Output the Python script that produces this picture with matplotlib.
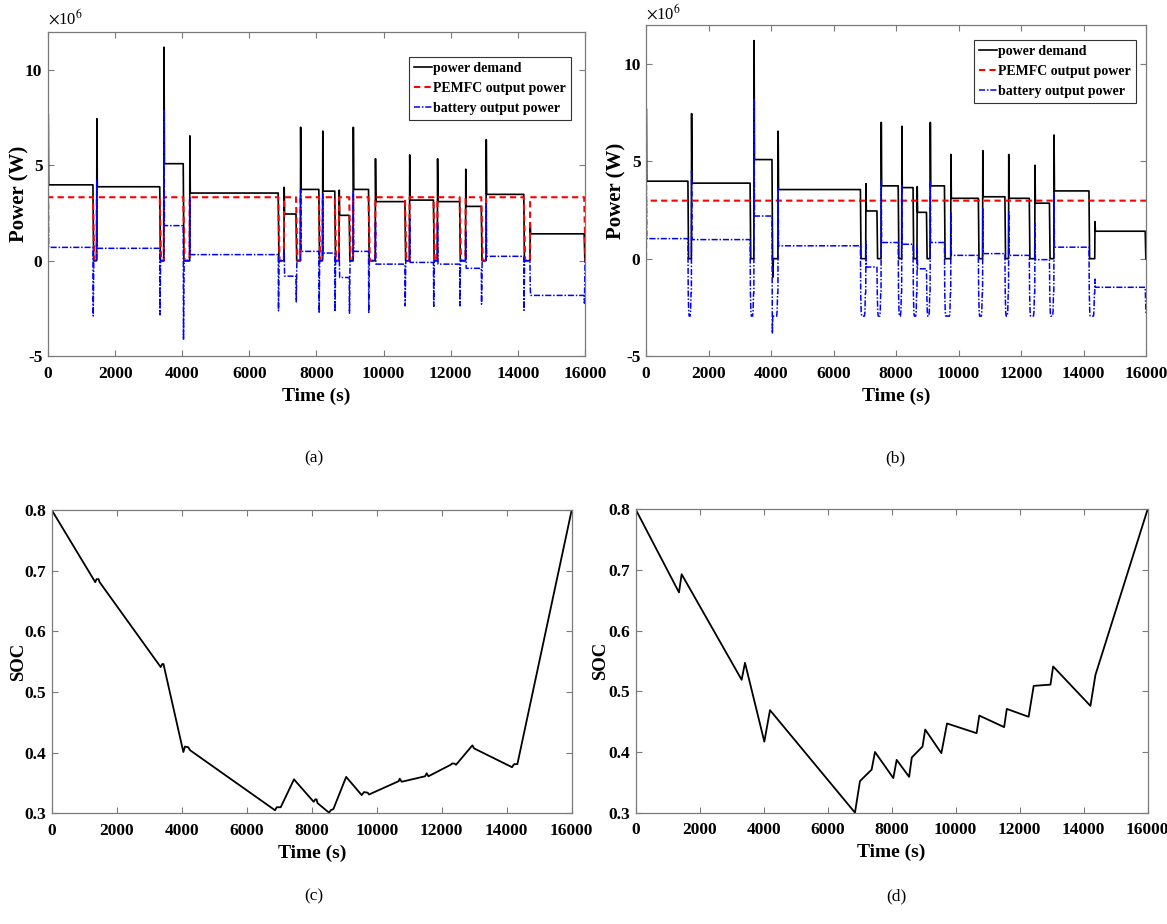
import numpy as np
import matplotlib
matplotlib.use("Agg")
import matplotlib.pyplot as plt
from matplotlib.ticker import FuncFormatter

plt.rcParams['font.family'] = ['Liberation Serif', 'DejaVu Serif']
plt.rcParams['mathtext.fontset'] = 'stix'
plt.rcParams['axes.unicode_minus'] = False

# ---- drive-cycle blocks (time in s, power in MW) ----
blk_start = [0, 1450, 3450, 4220, 7030, 7520, 8180, 8670, 9090, 9750, 10770, 11600, 12440, 13050, 14360]
blk_end = [1340, 3330, 4030, 6860, 7390, 8070, 8545, 8975, 9550, 10635, 11485, 12265, 12910, 14175, 15975]
dem_peak = [7.7, 7.45, 11.2, 6.55, 3.85, 7.0, 6.8, 3.7, 7.0, 5.35, 5.55, 5.35, 4.8, 6.35, 1.9]
dem_plat = [3.98, 3.88, 5.09, 3.55, 2.45, 3.74, 3.65, 2.38, 3.74, 3.10, 3.18, 3.10, 2.85, 3.48, 1.41]

# strategy (a)
a_fc = 3.33
a_bat_spike = [4.45, 4.2, 7.95, 3.3, 0.5, 3.7, 3.5, 0.4, 3.7, 2.0, 2.2, 2.0, 1.5, 3.0, -1.4]
a_bat_plat = [0.70, 0.65, 1.84, 0.32, -0.81, 0.49, 0.40, -0.88, 0.49, -0.18, -0.09, -0.18, -0.40, 0.23, -1.82]
a_bat_dip = [-2.9, -2.84, -4.16, -2.63, -2.16, -2.75, -2.67, -2.75, -2.75, -2.37, -2.4, -2.37, -2.28, -2.6, -2.23]

# strategy (b)
b_fc = 2.98
b_dem_dip = [0, 0, -0.95, 0, 0, 0, 0, 0, 0, 0, 0, 0, 0, 0, 0]
b_bat_spike = [4.8, 4.5, 8.25, 3.6, 0.9, 4.0, 3.8, 0.7, 4.0, 2.4, 2.6, 2.4, 1.8, 3.4, -1.05]
b_bat_plat = [1.03, 0.98, 2.19, 0.66, -0.43, 0.83, 0.74, -0.52, 0.83, 0.17, 0.26, 0.17, -0.05, 0.59, -1.47]
b_bat_floor = [-2.95, -2.95, -2.95, -2.95, -2.95, -2.95, -2.95, -2.95, -2.95, -2.95, -2.95, -2.95, -2.95, -2.95, -2.85]
b_bat_gapmin = [None, None, -3.85, None, None, None, None, None, None, None, None, None, None, None, None]

# SOC traces
c_t = [0, 1340, 1380, 1440, 1475, 3354, 3400, 3440, 3460, 4051, 4100, 4200, 4256, 6872, 6923, 7046,
       7456, 7518, 8060, 8110, 8150, 8175, 8533, 8585, 8667, 9060, 9538, 9610, 9723, 9764, 10677, 10708,
       10769, 11487, 11538, 11590, 12277, 12318, 12390, 12441, 12944, 12995, 14164, 14226, 14328, 16000]
c_soc = [0.8, 0.681, 0.686, 0.686, 0.681, 0.541, 0.546, 0.546, 0.541, 0.401, 0.410, 0.409, 0.404, 0.305,
         0.310, 0.310, 0.356, 0.352, 0.319, 0.323, 0.323, 0.317, 0.301, 0.305, 0.307, 0.360, 0.330, 0.335,
         0.334, 0.331, 0.353, 0.357, 0.352, 0.361, 0.366, 0.361, 0.380, 0.382, 0.382, 0.380, 0.412, 0.407,
         0.376, 0.381, 0.381, 0.8]
d_t = [0, 1354, 1437, 3312, 3417, 4021, 4198, 6854, 7010, 7375, 7479, 8052, 8157, 8546, 8630, 8965, 9049,
       9553, 9731, 10655, 10739, 11515, 11599, 12281, 12439, 12963, 13047, 14212, 14369, 16000]
d_soc = [0.8, 0.663, 0.693, 0.519, 0.547, 0.417, 0.469, 0.300, 0.352, 0.371, 0.400, 0.357, 0.387, 0.359,
         0.391, 0.409, 0.437, 0.398, 0.447, 0.431, 0.460, 0.441, 0.471, 0.458, 0.509, 0.511, 0.541, 0.476,
         0.527, 0.8]

MW = 1e6


def demand_trace(dips=None):
    t, y = [0.0], [0.0]
    for i, (s, e) in enumerate(zip(blk_start, blk_end)):
        t += [s, s + 8, s + 20, e, e + 20]
        y += [0, dem_peak[i], dem_plat[i], dem_plat[i], 0]
        if dips is not None and dips[i] != 0:
            t += [e + 30, e + 45]
            y += [dips[i], 0]
    return np.array(t), np.array(y) * MW


def fc_trace_a():
    t, y = [0.0], [0.0]
    for s, e in zip(blk_start, blk_end):
        t += [s, s + 5, e, e + 40]
        y += [0, a_fc, a_fc, 0]
    return np.array(t), np.array(y) * MW


def bat_trace_a():
    t, y = [0.0], [0.0]
    for i, (s, e) in enumerate(zip(blk_start, blk_end)):
        t += [s, s + 8, s + 20, e, e + 8, e + 25]
        y += [0, a_bat_spike[i], a_bat_plat[i], a_bat_plat[i], a_bat_dip[i], 0]
    return np.array(t), np.array(y) * MW


def bat_trace_b():
    t, y = [0.0], [0.0]
    n = len(blk_start)
    for i, (s, e) in enumerate(zip(blk_start, blk_end)):
        f = b_bat_floor[i]
        t += [s, s + 8, s + 20, e]
        y += [y[-1] if i else 0, b_bat_spike[i], b_bat_plat[i], b_bat_plat[i]]
        if i == n - 1:
            t += [e + 25]
            y += [f]
            break
        nxt = blk_start[i + 1]
        if b_bat_gapmin[i] is not None:
            t += [e + 12, e + 25]
            y += [b_bat_gapmin[i], f * 0.98]
        else:
            t += [e + 10, e + 25]
            y += [f * 0.6, f * 0.92]
        t += [e + 40, nxt - 40, nxt - 25, nxt - 10]
        y += [f, f, f * 0.92, f * 0.6]
    return np.array(t), np.array(y) * MW


FS_TICK = 12.5
SPINE = '#7a7a7a'


def style_axes(ax):
    for sp in ax.spines.values():
        sp.set_color(SPINE)
        sp.set_linewidth(0.9)
    ax.tick_params(direction='in', length=4, width=0.8, color=SPINE,
                   top=True, right=True, labelsize=FS_TICK)
    ax.tick_params(axis='x', pad=7)
    ax.tick_params(axis='y', pad=4)
    for lab in ax.get_xticklabels() + ax.get_yticklabels():
        lab.set_fontweight('bold')
    ax.set_xlim(0, 16000)
    ax.set_xticks(np.arange(0, 16001, 2000))
    ax.set_xlabel('Time (s)', fontsize=14, fontweight='bold', labelpad=4)


fig = plt.figure(figsize=(11.67, 9.24), dpi=100)
ax_a = fig.add_axes([0.0411, 0.6147, 0.4602, 0.3507])
ax_b = fig.add_axes([0.5536, 0.6147, 0.4284, 0.3582])
ax_c = fig.add_axes([0.0443, 0.1198, 0.4456, 0.3283])
ax_d = fig.add_axes([0.5447, 0.1205, 0.4387, 0.3283])

panels = [
    (ax_a, demand_trace(), fc_trace_a(), bat_trace_a(), (0.974, 0.923), 1.012, -0.034),
    (ax_b, demand_trace(b_dem_dip),
     (np.array([0, 5, 16000]), np.array([0, b_fc, b_fc]) * MW), bat_trace_b(), (0.98, 0.955), 1.004, -0.04),
]
for ax, dem, fc, bat, anchor, ytxt, lx in panels:
    ax.plot(*dem, color='black', lw=1.2, label='power demand')
    ax.plot(*fc, color='#ff0000', lw=1.5, ls=(0, (3, 2)), label='PEMFC output power')
    ax.plot(*bat, color='#0000ff', lw=1.1, ls=(0, (4, 1.2, 1, 1.2)), label='battery output power')
    ax.set_ylim(-5 * MW, 12 * MW)
    ax.set_yticks(np.array([-5, 0, 5, 10]) * MW)
    ax.yaxis.set_major_formatter(FuncFormatter(lambda v, p: '%d' % round(v / MW)))
    style_axes(ax)
    ax.text(0.0, ytxt, r'$\times$10$^{6}$', transform=ax.transAxes, fontsize=12,
            ha='left', va='bottom')
    ax.set_ylabel('Power (W)', fontsize=15, fontweight='bold')
    ax.yaxis.set_label_coords(lx, 0.5)
    leg = ax.legend(loc='upper right', bbox_to_anchor=anchor, fancybox=False, framealpha=1,
                    edgecolor='#333333', borderpad=0.35, labelspacing=0.5, handlelength=1.3,
                    handletextpad=0.1, borderaxespad=0, prop={'size': 10, 'weight': 'bold'})
    leg.get_frame().set_linewidth(0.8)

for ax, t, s, lx in [(ax_c, c_t, c_soc, -0.047), (ax_d, d_t, d_soc, -0.052)]:
    ax.plot(t, s, color='black', lw=1.3)
    ax.set_ylim(0.3, 0.8)
    ax.set_yticks([0.3, 0.4, 0.5, 0.6, 0.7, 0.8])
    style_axes(ax)
    ax.set_ylabel('SOC', fontsize=13.5, fontweight='bold')
    ax.yaxis.set_label_coords(lx, 0.5)

for x, y, txt in [(0.269, 0.504, '(a)'), (0.767, 0.504, '(b)'),
                  (0.269, 0.03, '(c)'), (0.768, 0.03, '(d)')]:
    fig.text(x, y, txt, fontsize=12.5, ha='center', va='center')

fig.savefig('out.png', dpi=100)
